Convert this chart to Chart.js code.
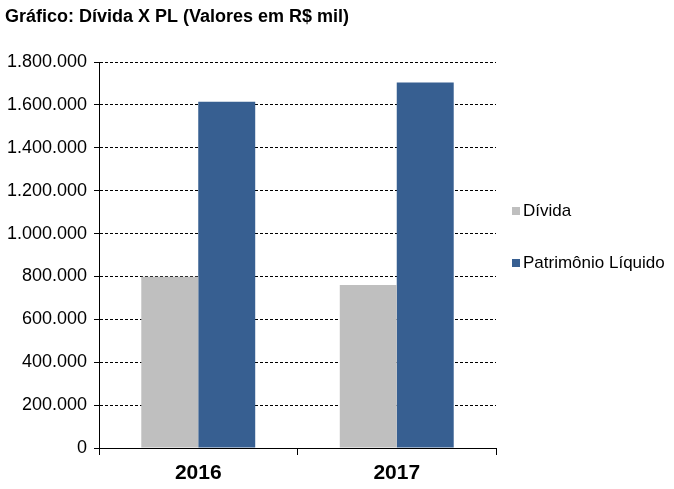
<!DOCTYPE html>
<html>
<head>
<meta charset="utf-8">
<script src="https://cdn.jsdelivr.net/npm/chart.js@4"></script>
<style>
  body { margin: 0; background: #fff; }
  #wrap { position: relative; width: 674px; height: 489px; }
  #legend { position: absolute; left: 512px; top: 201px; font: 17px "Liberation Sans", Arial, sans-serif; color: #000; }
  .item { position: absolute; white-space: nowrap; height: 20px; line-height: 20px; }
  .box { display: inline-block; width: 8px; height: 8px; margin-right: 3px; vertical-align: 1px; }
</style>
</head>
<body>
<div id="wrap">
  <canvas id="chart" width="674" height="489"></canvas>
  <div id="legend"></div>
</div>
<script>
const years = ["2016", "2017"];
const divida = [798000, 760000];
const patrimonio = [1615000, 1704000];
const seriesNames = ["Dívida", "Patrimônio Líquido"];
const seriesColors = ["#BFBFBF", "#375F91"];

function fmt(v) {
  return String(v).replace(/\B(?=(\d{3})+(?!\d))/g, ".");
}

const fontFamily = '"Liberation Sans", Arial, sans-serif';

const chart = new Chart(document.getElementById("chart"), {
  type: "bar",
  data: {
    labels: years,
    datasets: [
      { label: seriesNames[0], data: divida, backgroundColor: seriesColors[0] },
      { label: seriesNames[1], data: patrimonio, backgroundColor: seriesColors[1] }
    ]
  },
  options: {
    responsive: false,
    animation: false,
    layout: { padding: { left: 5, right: 178, top: 0, bottom: 0 } },
    datasets: { bar: { categoryPercentage: 0.574, barPercentage: 1.0 } },
    plugins: {
      legend: { display: false },
      tooltip: { enabled: false },
      title: {
        display: true,
        text: "Gráfico: Dívida X PL (Valores em R$ mil)",
        align: "start",
        color: "#000",
        font: { family: fontFamily, size: 18, weight: "bold" },
        padding: { top: 6, bottom: 34.4 }
      }
    },
    scales: {
      x: {
        grid: { display: true, drawOnChartArea: false, offset: true, tickLength: 7, color: "#000" },
        border: { color: "#000", width: 1 },
        ticks: { color: "#000", padding: 6, font: { family: fontFamily, size: 21, weight: "bold" } },
        afterFit: s => { s.height = 41; }
      },
      y: {
        min: 0,
        max: 1800000,
        ticks: {
          stepSize: 200000,
          color: "#000",
          padding: 7,
          font: { family: fontFamily, size: 18 },
          callback: v => fmt(v)
        },
        grid: { color: "#000", tickLength: 5, tickColor: "#000" },
        border: { color: "#000", width: 1, dash: [3, 2] },
        afterFit: s => { s.width = 94; }
      }
    }
  }
});

const legend = document.getElementById("legend");
seriesNames.forEach((name, i) => {
  const div = document.createElement("div");
  div.className = "item";
  div.style.top = (i * 52) + "px";
  div.innerHTML = '<span class="box" style="background:' + seriesColors[i] + '"></span>' + name;
  legend.appendChild(div);
});
</script>
</body>
</html>
